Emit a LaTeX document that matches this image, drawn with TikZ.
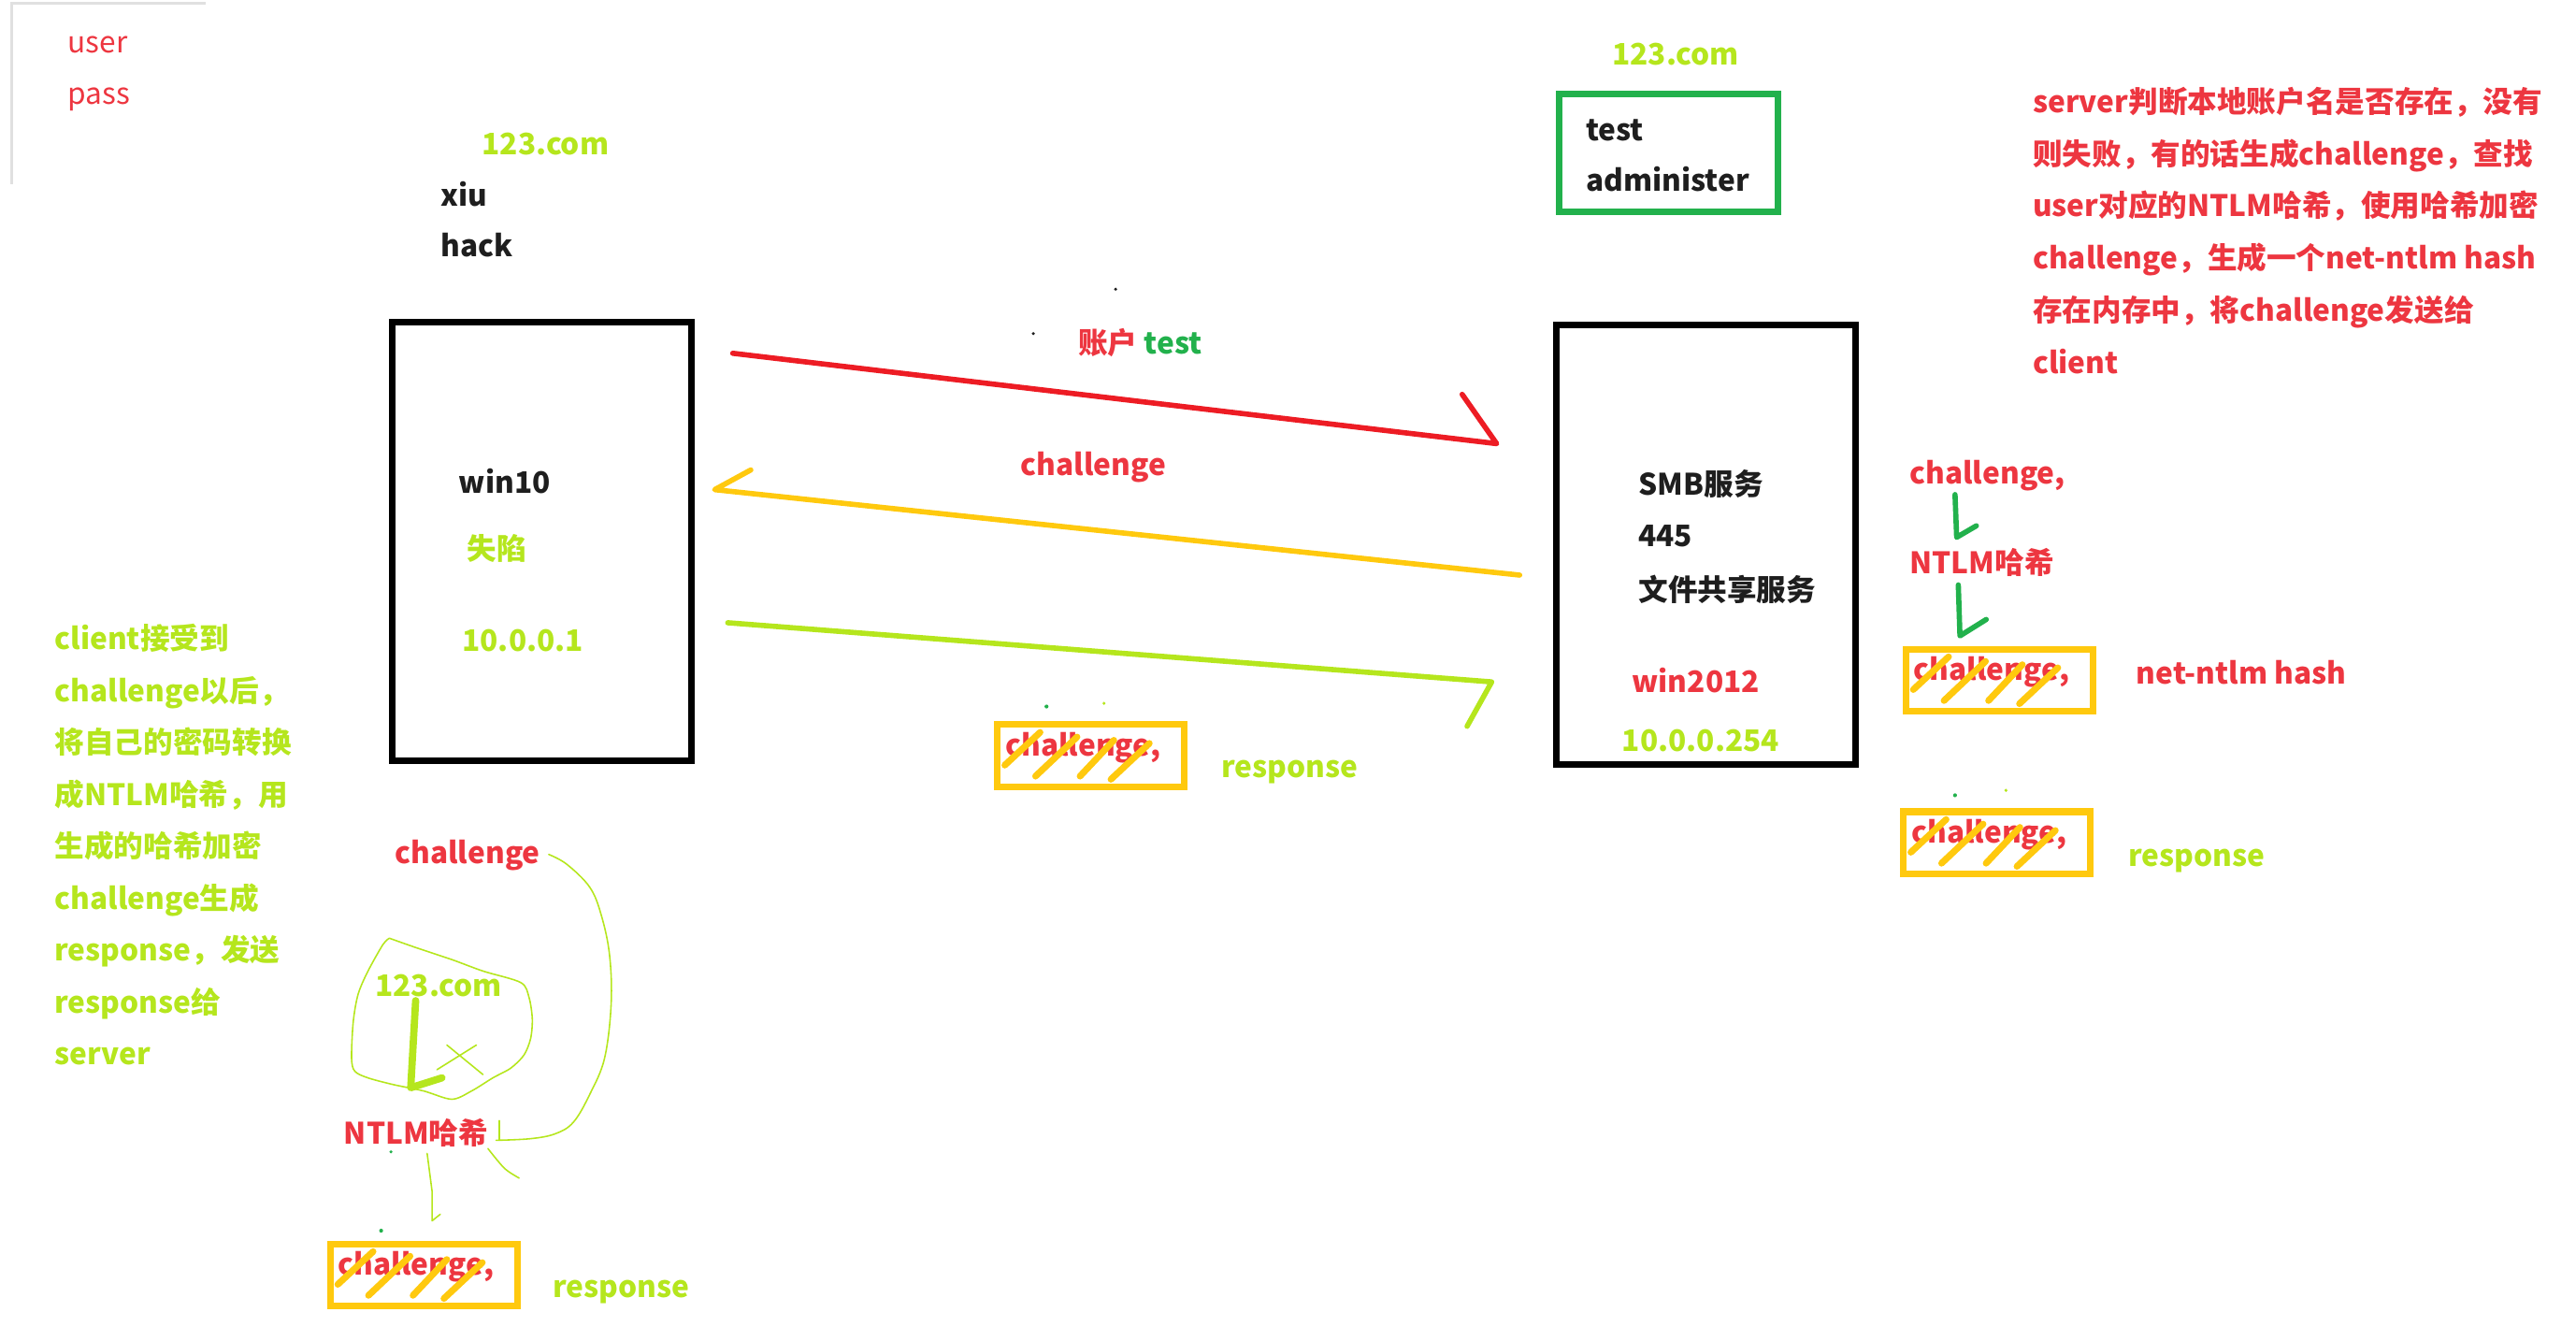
\documentclass[tikz,border=0pt]{standalone}
\usepackage{fontspec}
\setmainfont{Noto Sans CJK SC}
\usepackage{tikz}
\usetikzlibrary{calc}
\definecolor{txtred}{RGB}{237, 54, 64}
\definecolor{penred}{RGB}{237, 28, 36}
\definecolor{lime}{RGB}{181, 230, 29}
\definecolor{amber}{RGB}{255, 201, 14}
\definecolor{grn}{RGB}{34, 177, 76}
\definecolor{ink}{RGB}{30, 30, 30}

\begin{document}
\begin{tikzpicture}[x=0.5pt, y=-0.5pt,
  lbl/.style={anchor=base west, inner sep=0pt, yshift=-0.7pt, font=\fontsize{9}{11}\selectfont\bfseries},
  host/.style={draw=black, line width=2pt, minimum width=91pt, minimum height=133.5pt},
  pen/.style={line width=1.6pt, line cap=round, line join=round},
  thinpen/.style={lime, line width=0.45pt, line cap=round, line join=round},
  hashbox/.style={draw=amber, line width=2pt, minimum width=57pt, minimum height=19pt,
    text width=52pt, align=left, inner xsep=2.5pt, inner ysep=0pt,
    text height=7pt, text depth=7pt, text=txtred, font=\fontsize{9}{11}\selectfont\bfseries},
  slash/.style={amber, line width=2pt, line cap=round}]
  \useasboundingbox (0,0) rectangle (1568,816);
  % frame edge of the cropped note
  \draw[black!12, line width=0.8pt] (7,112) -- (7,2) -- (125,2);
  \node[lbl, font=\fontsize{9}{11}\selectfont, text=txtred] (user) at (41,31) {user};
  \node[lbl, font=\fontsize{9}{11}\selectfont, text=txtred] (pass) at (41,62) {pass};

  % client
  \node[lbl, text=lime] (domL) at (293,93) {123.com};
  \node[lbl, text=ink] (acc1) at (268,124) {xiu};
  \node[lbl, text=ink] (acc2) at (268,155) {hack};
  \node[host] (win) at (330,329.5) {};
  \node[lbl, text=ink] (winname) at (279,299) {win10};
  \node[lbl, text=lime] (winstate) at (284,339) {失陷};
  \node[lbl, text=lime] (winip) at (281,395) {10.0.0.1};

  % server
  \node[lbl, text=lime] (domR) at (981,38) {123.com};
  \node[draw=grn, line width=2pt, minimum width=66.5pt, minimum height=36pt] (accbox) at (1015.5,93) {};
  \node[lbl, text=ink] (acc3) at (965,84) {test};
  \node[lbl, text=ink] (acc4) at (965,115) {administer};
  \node[host] (srv) at (1038.5,331.5) {};
  \node[lbl, text=ink] (smb) at (997,300) {SMB服务};
  \node[lbl, text=ink] (port) at (997,331) {445};
  \node[lbl, text=ink] (share) at (997,364) {文件共享服务};
  \node[lbl, text=txtred] (srvname) at (993,420) {win2012};
  \node[lbl, text=lime] (srvip) at (987,456) {10.0.0.254};

  % messages
  \coordinate (askS) at (446,215);
  \coordinate (askE) at (911,270);
  \draw[pen, penred] (askS) -- (askE) -- ++(-21,-30);
  \node[lbl, text=txtred] (asklbl) at (656,214) {账户 \textcolor{grn}{test}};
  \coordinate (chalS) at (925,350);
  \coordinate (chalE) at (435,298);
  \draw[pen, amber] (chalS) -- (chalE) -- ++(22,-12);
  \node[lbl, text=txtred] (challbl) at (621,288) {challenge};
  \coordinate (respS) at (443,379);
  \coordinate (respE) at (908,415);
  \draw[pen, lime] (respS) -- (respE) -- ++(-15,27);
  \node[hashbox] (hmid) at (664,460) {challenge,};
  \node[lbl, text=lime] (resplbl) at (743,472) {response};

  % server side hashing
  \node[lbl, text=txtred] (rchal) at (1162,293) {challenge,};
  \node[lbl, text=txtred] (rntlm) at (1162,348) {NTLM哈希};
  \coordinate (g1a) at (1190,301);
  \coordinate (g1b) at (1191,327);
  \coordinate (g2a) at (1192,356);
  \coordinate (g2b) at (1193,387);
  \draw[pen, grn] (g1a) -- (g1b) -- ++(12,-7);
  \draw[pen, grn] (g2a) -- (g2b) -- ++(16,-10);
  \node[hashbox] (hr1) at (1217,414) {challenge,};
  \node[lbl, text=txtred] (nethash) at (1300,415) {net-ntlm hash};
  \node[hashbox] (hr2) at (1215.5,513) {challenge,};
  \node[lbl, text=lime] (rresp) at (1295,526) {response};

  \foreach \ln [count=\i] in {server判断本地账户名是否存在，没有, 则失败，有的话生成challenge，查找,
      user对应的NTLM哈希，使用哈希加密, challenge，生成一个net-ntlm hash, 存在内存中，将challenge发送给, client}
    \node[lbl, text=txtred] (srvnote\i) at (1237,{67+31.8*(\i-1)}) {\ln};

  % client side hashing
  \foreach \ln [count=\i] in {client接受到, challenge以后，, 将自己的密码转换, 成NTLM哈希，用,
      生成的哈希加密, challenge生成, response，发送, response给, server}
    \node[lbl, text=lime] (clinote\i) at (33,{394+31.6*(\i-1)}) {\ln};

  \node[lbl, text=txtred] (lchal) at (240,524) {challenge};
  \node[lbl, text=lime] (ldom) at (228,605) {123.com};
  \node[lbl, text=txtred] (lntlm) at (209,695) {NTLM哈希};
  \node[hashbox] (hl) at (258,776) {challenge,};
  \node[lbl, text=lime] (lresp) at (336,788) {response};

  \draw[thinpen] plot[smooth, tension=0.6] coordinates {(334,520) (345,526) (359,540) (366,557)
    (371,581) (372,611) (368,644) (359,666) (349,683) (338,690) (323,693) (302,694)};
  \draw[thinpen] (304,682) -- (304,694);
  \draw[thinpen] plot[smooth] coordinates {(297,699) (307,711) (316,717)};
  \draw[thinpen] plot[smooth, tension=0.5] coordinates {(237,571) (254,577) (275,584) (294,591)
    (317,598) (322,607) (324,620) (323,632) (319,642) (311,650) (300,656) (287,664) (275,669)
    (258,664) (239,660) (224,656) (216,652) (214,644) (215,622) (218,605) (224,591) (233,575) (237,571)};
  \draw[pen, lime, line width=2.2pt] (253,609) -- (250,662) -- (269,656);
  \draw[thinpen] (272,636) -- (294,654);
  \draw[thinpen] (266,651) -- (290,636);
  \draw[thinpen] (260,702) -- (263,725) -- (263,743) -- (268,739);

  % strike marks over the hashed challenge
  \foreach \b in {hmid, hr1, hr2, hl}
    \foreach \ax/\ay/\bx/\by in {6.6/26.7/28.1/6.7, 25.3/33.4/50.6/9.5, 52.4/33.4/73/11.5, 71.2/35.3/94.6/13.4}
      \draw[slash] ([shift={(\ax,\ay)}]\b.north west) -- ([shift={(\bx,\by)}]\b.north west);

  % stray pen dots
  \fill[ink] (629,203) circle (1);
  \fill[ink] (679,176) circle (1);
  \fill[grn] (238,701) circle (1);
  \fill[grn] (232,749) circle (1.2);
  \fill[grn] (637,430) circle (1.2);
  \fill[lime] (672,428) circle (1);
  \fill[grn] (1190,484) circle (1.2);
  \fill[lime] (1221,481) circle (1);
\end{tikzpicture}
\end{document}
